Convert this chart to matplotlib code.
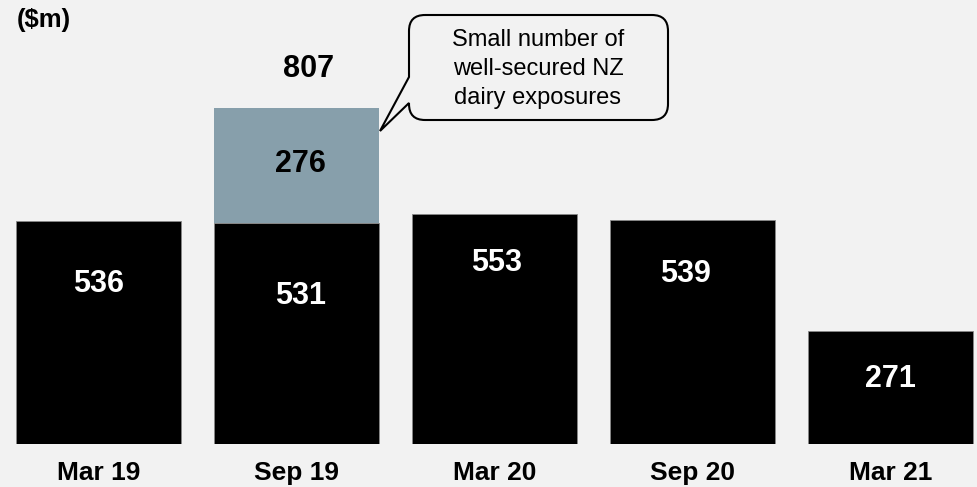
import matplotlib.pyplot as plt
from matplotlib.path import Path
from matplotlib.patches import PathPatch

periods = ['Mar 19', 'Sep 19', 'Mar 20', 'Sep 20', 'Mar 21']
core = [536, 531, 553, 539, 271]
dairy = [0, 276, 0, 0, 0]
totals = [c + d for c, d in zip(core, dairy)]
note = 'Small number of\nwell-secured NZ\ndairy exposures'

bg = '#f2f2f2'
bar_dark = '#000000'
bar_light = '#879fab'
plt.rcParams['font.family'] = ['Liberation Sans', 'DejaVu Sans']

W, H = 977, 487
fig = plt.figure(figsize=(W / 100, H / 100), dpi=100)
fig.patch.set_facecolor(bg)
ax = fig.add_axes([0, 43 / H, 1, 1 - 43 / H])
ax.set_facecolor(bg)

x = list(range(len(periods)))
ax.bar(x, core, width=0.833, color=bar_dark, edgecolor='#888888', linewidth=0.6)
ax.bar(x, dairy, bottom=core, width=0.833, color=bar_light, edgecolor=bar_light, linewidth=0)

ax.set_xlim(-0.4975, -0.4975 + W / 198)
ax.set_ylim(0, 444 / 0.416)
for s in ax.spines.values():
    s.set_visible(False)
ax.set_yticks([])
ax.set_xticks(x)
ax.set_xticklabels(periods, fontsize=19, fontweight='bold')
ax.tick_params(axis='x', length=0, pad=12)

# value labels inside the dark bars, drop below each bar top
drops = [151, 175, 118, 130, 115]
shifts = [0, 0.02, 0.01, -0.035, 0]
for i, v in enumerate(core):
    ax.text(i + shifts[i], v - drops[i], str(v), color='white', fontsize=22,
            fontweight='bold', ha='center', va='center')

for i, d in enumerate(dairy):
    if d:
        ax.text(i + 0.02, core[i] + d / 2 + 5, str(d), color='black', fontsize=22,
                fontweight='bold', ha='center', va='center')
        ax.text(i + 0.06, totals[i] + 95, str(totals[i]), color='black', fontsize=22,
                fontweight='bold', ha='center', va='center')

fig.text(17 / W, 1 - 20 / H, '($m)', fontsize=18.5, fontweight='bold', ha='left', va='center')

# callout bubble (pixel coordinates, origin bottom-left)
x0, x1, yt, yb, r = 409, 668, H - 15, H - 120, 16
n_lo, n_hi = H - 103, H - 77
tip = (380, H - 131)
verts = [(x0 + r, yt), (x1 - r, yt), (x1, yt), (x1, yt - r), (x1, yb + r), (x1, yb), (x1 - r, yb),
         (x0 + r, yb), (x0, yb), (x0, yb + r), (x0, n_lo), tip, (x0, n_hi), (x0, yt - r), (x0, yt),
         (x0 + r, yt)]
codes = [Path.MOVETO, Path.LINETO, Path.CURVE3, Path.CURVE3, Path.LINETO, Path.CURVE3, Path.CURVE3,
         Path.LINETO, Path.CURVE3, Path.CURVE3, Path.LINETO, Path.LINETO, Path.LINETO, Path.LINETO,
         Path.CURVE3, Path.CURVE3]
verts = [(vx / W, vy / H) for vx, vy in verts]
bubble = PathPatch(Path(verts, codes), facecolor=bg, edgecolor='black', linewidth=1.5,
                   transform=fig.transFigure)
fig.add_artist(bubble)
fig.text(538 / W, 1 - 69 / H, note, fontsize=17, ha='center', va='center', linespacing=1.4)

fig.savefig('out.png', dpi=100, facecolor=bg)
